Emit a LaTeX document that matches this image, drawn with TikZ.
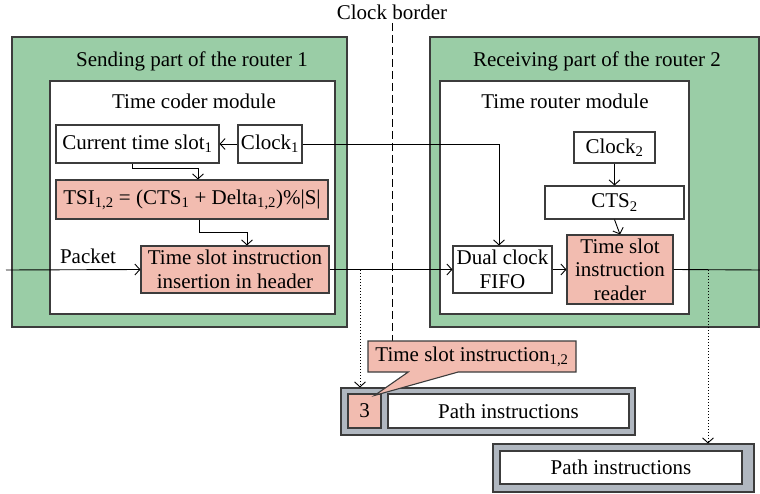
\documentclass[tikz,border=0pt]{standalone}
\usepackage{fontspec}
\setmainfont{Liberation Serif}
\usetikzlibrary{arrows.meta,shapes.callouts}
\definecolor{routergreen}{RGB}{154,205,166}
\definecolor{slotpink}{RGB}{242,188,176}
\definecolor{packetgrey}{RGB}{176,183,192}
\definecolor{edgegrey}{RGB}{60,60,60}

\begin{document}
\begin{tikzpicture}[
  x=1pt,y=-1pt,
  font=\fontsize{21}{23.5}\selectfont,
  >={Straight Barb[length=5pt,width=11pt]},
  box/.style={draw=edgegrey,line width=1.1pt,inner sep=1pt,align=center},
  router/.style={box,fill=routergreen},
  module/.style={box,fill=white},
  block/.style={box,fill=white},
  pinkblock/.style={box,fill=slotpink},
  packet/.style={box,fill=packetgrey},
  flow/.style={->,line width=0.9pt},
  wire/.style={line width=0.9pt},
  tap/.style={->,line width=0.9pt,dash pattern=on 1pt off 2pt}
]
\useasboundingbox (0,0) rectangle (760,494);

\node[router,minimum width=335pt,minimum height=290pt] (send) at (179.5,182) {};
\node[module,minimum width=285pt,minimum height=233pt] (coder) at (192.5,197.5) {};
\node[router,minimum width=329pt,minimum height=290pt] (recv) at (594.5,182) {};
\node[module,minimum width=249pt,minimum height=233pt] (trouter) at (564.5,197.5) {};

\node (sendtitle) at (192,61) {Sending part of the router 1};
\node (codertitle) at (194,101) {Time coder module};
\node (recvtitle) at (597,61) {Receiving part of the router 2};
\node (routertitle) at (565,101) {Time router module};

\node[block,minimum width=163pt,minimum height=38pt] (cts1) at (137.5,144) {Current time slot\textsubscript{1}};
\node[block,minimum width=64pt,minimum height=38pt] (clk1) at (270,144) {Clock\textsubscript{1}};
\node[pinkblock,minimum width=272pt,minimum height=39pt] (tsi) at (192,199.5) {TSI\textsubscript{1,2} = (CTS\textsubscript{1} + Delta\textsubscript{1,2})\%|S|};
\node[pinkblock,minimum width=188pt,minimum height=47pt] (ins) at (235,269.5) {Time slot instruction\\insertion in header};

\node[block,minimum width=81pt,minimum height=31pt] (clk2) at (614.5,147.5) {Clock\textsubscript{2}};
\node[block,minimum width=139pt,minimum height=33pt] (cts2) at (614.5,202.5) {CTS\textsubscript{2}};
\node[block,minimum width=99pt,minimum height=47pt] (fifo) at (502.5,269.5) {Dual clock\\FIFO};
\node[pinkblock,minimum width=106pt,minimum height=69pt] (reader) at (620,269.5) {Time slot\\instruction\\reader};

\node (packetlabel) at (88,256) {Packet};
\coordinate (pin) at (6,270);
\coordinate (pout) at (760,270);
\coordinate (tap1) at (360,270);
\coordinate (tap2) at (708,270);

\draw[flow] (clk1.west) -- (cts1.east);
\draw[flow] (clk1.east) -| ([xshift=-3.5pt]fifo.north);
\draw[flow] ([xshift=-5.5pt]cts1.south) -- ++(0,5) -| ([xshift=6pt]tsi.north);
\draw[flow] ([xshift=7pt]tsi.south) -- ++(0,13) -| ([xshift=12pt]ins.north);
\draw[flow] (pin) -- (ins.west);
\draw[flow] (ins.east) -- (fifo.west);
\draw[flow] (fifo.east) -- (reader.west);
\draw[wire] (reader.east) -- (pout);
\draw[flow] (clk2.south) -- (cts2.north);
\draw[flow] (cts2.south) -- (reader.north);

\node (border) at (392,12) {Clock border};
\coordinate (borderend) at (392,341);
\draw[line width=0.9pt,dash pattern=on 8pt off 4pt] (border.south) -- (borderend);

\node[packet,minimum width=294pt,minimum height=47pt] (pkt1) at (488,411.5) {};
\node[pinkblock,minimum width=33pt,minimum height=34pt] (num) at (364.5,411) {3};
\node[block,minimum width=241pt,minimum height=34pt] (path1) at (508.5,411) {Path instructions};
\node[packet,minimum width=261pt,minimum height=48pt] (pkt2) at (623.5,468) {};
\node[block,minimum width=242pt,minimum height=33pt] (path2) at (621,467.5) {Path instructions};

\draw[tap] (tap1) -- (tap1 |- pkt1.north);
\draw[tap] (tap2) -- (tap2 |- pkt2.north);

\node[pinkblock,rectangle callout,minimum width=208pt,minimum height=31pt,
  callout absolute pointer={([xshift=-7pt,yshift=-2pt]num.north east)},
  callout pointer width=50pt] (tsinstr) at (472,356.5) {Time slot instruction\textsubscript{1,2}};
\end{tikzpicture}
\end{document}
